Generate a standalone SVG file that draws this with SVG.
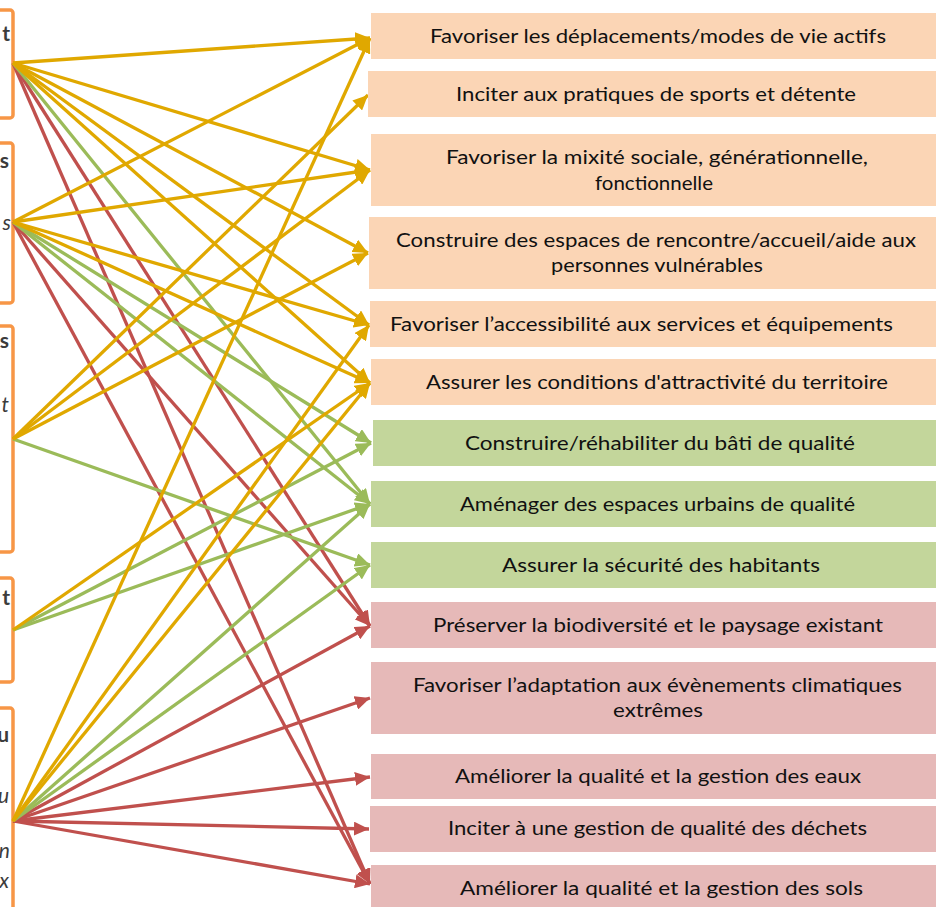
<svg xmlns="http://www.w3.org/2000/svg" width="936" height="907" viewBox="0 0 936 907">
<style>
.src{fill:none;stroke:#F79646;stroke-width:3.5}
.lt{font-family:Lato,"Open Sans","DejaVu Sans",sans-serif;font-size:21px;fill:#3C3C3C}
.b{font-weight:bold}
.i{font-style:italic}
.t{font-family:Lato,"Open Sans","DejaVu Sans",sans-serif;font-size:19.5px;fill:#111111}
.o{fill:#FBD5B5}
.g{fill:#C3D69B}
.r{fill:#E6B9B8}
.cg{stroke:#E0A800;stroke-width:3.3;fill:none;marker-end:url(#mg)}
.cn{stroke:#9BBB59;stroke-width:3.3;fill:none;marker-end:url(#mn)}
.cr{stroke:#C0504D;stroke-width:3.3;fill:none;marker-end:url(#mr)}
</style>
<defs>
<marker id="mg" markerUnits="userSpaceOnUse" markerWidth="16" markerHeight="14" refX="15" refY="7" orient="auto"><path d="M0,0 L15,7 L0,14 z" fill="#E0A800"/></marker>
<marker id="mn" markerUnits="userSpaceOnUse" markerWidth="16" markerHeight="14" refX="15" refY="7" orient="auto"><path d="M0,0 L15,7 L0,14 z" fill="#9BBB59"/></marker>
<marker id="mr" markerUnits="userSpaceOnUse" markerWidth="16" markerHeight="14" refX="15" refY="7" orient="auto"><path d="M0,0 L15,7 L0,14 z" fill="#C0504D"/></marker>
</defs>
<rect width="936" height="907" fill="#FFFFFF"/>

<g id="source-1"><rect class="src" x="-50" y="10" width="63" height="108" rx="3"/><text class="lt b" x="10" y="41" text-anchor="end">t</text></g>
<g id="source-2"><rect class="src" x="-50" y="143" width="63" height="160" rx="3"/><text class="lt b" x="9" y="168" text-anchor="end">s</text><text class="lt i" x="11" y="230" text-anchor="end">s</text></g>
<g id="source-3"><rect class="src" x="-50" y="326" width="63" height="226" rx="3"/><text class="lt b" x="9" y="348" text-anchor="end">s</text><text class="lt i" x="9" y="412" text-anchor="end">t</text></g>
<g id="source-4"><rect class="src" x="-50" y="578" width="63" height="104" rx="3"/><text class="lt b" x="10" y="605" text-anchor="end">t</text></g>
<g id="source-5"><rect class="src" x="-50" y="708" width="63" height="230" rx="3"/><text class="lt b" x="9" y="742" text-anchor="end">u</text><text class="lt i" x="9" y="803" text-anchor="end">u</text><text class="lt i" x="10" y="858" text-anchor="end">n</text><text class="lt i" x="9" y="888" text-anchor="end">x</text></g>

<g id="connectors">
<g id="red">
<line class="cr" x1="13" y1="63" x2="370" y2="626"/>
<line class="cr" x1="13" y1="63" x2="370" y2="884"/>
<line class="cr" x1="13" y1="222" x2="370" y2="626"/>
<line class="cr" x1="13" y1="222" x2="370" y2="884"/>
<line class="cr" x1="13" y1="821" x2="370" y2="626"/>
<line class="cr" x1="13" y1="821" x2="370" y2="698"/>
<line class="cr" x1="13" y1="821" x2="370" y2="777"/>
<line class="cr" x1="13" y1="821" x2="369" y2="829"/>
<line class="cr" x1="13" y1="821" x2="370" y2="884"/>
</g>
<g id="green">
<line class="cn" x1="13" y1="63" x2="370" y2="504"/>
<line class="cn" x1="13" y1="222" x2="371" y2="443"/>
<line class="cn" x1="13" y1="222" x2="370" y2="504"/>
<line class="cn" x1="13" y1="439" x2="370" y2="565"/>
<line class="cn" x1="13" y1="630" x2="371" y2="443"/>
<line class="cn" x1="13" y1="630" x2="370" y2="504"/>
<line class="cn" x1="13" y1="821" x2="370" y2="504"/>
<line class="cn" x1="13" y1="821" x2="370" y2="565"/>
</g>
<g id="gold">
<line class="cg" x1="13" y1="63" x2="370" y2="38"/>
<line class="cg" x1="13" y1="63" x2="370" y2="170"/>
<line class="cg" x1="13" y1="63" x2="368" y2="253"/>
<line class="cg" x1="13" y1="63" x2="369" y2="325"/>
<line class="cg" x1="13" y1="63" x2="370" y2="383"/>
<line class="cg" x1="13" y1="222" x2="370" y2="38"/>
<line class="cg" x1="13" y1="222" x2="370" y2="170"/>
<line class="cg" x1="13" y1="222" x2="369" y2="325"/>
<line class="cg" x1="13" y1="222" x2="370" y2="383"/>
<line class="cg" x1="13" y1="439" x2="368" y2="95"/>
<line class="cg" x1="13" y1="439" x2="370" y2="170"/>
<line class="cg" x1="13" y1="439" x2="368" y2="253"/>
<line class="cg" x1="13" y1="630" x2="370" y2="383"/>
<line class="cg" x1="13" y1="821" x2="370" y2="38"/>
<line class="cg" x1="13" y1="821" x2="369" y2="325"/>
<line class="cg" x1="13" y1="821" x2="370" y2="383"/>
</g>
</g>

<g id="target-1"><rect class="o" x="371" y="13" width="565" height="46"/><text class="t" x="430" y="43" textLength="456" lengthAdjust="spacingAndGlyphs">Favoriser les déplacements/modes de vie actifs</text></g>
<g id="target-2"><rect class="o" x="368" y="71" width="568" height="46"/><text class="t" x="456" y="101" textLength="400" lengthAdjust="spacingAndGlyphs">Inciter aux pratiques de sports et détente</text></g>
<g id="target-3"><rect class="o" x="371" y="134" width="565" height="72"/><text class="t" x="446" y="164" textLength="422" lengthAdjust="spacingAndGlyphs">Favoriser la mixité sociale, générationnelle,</text><text class="t" x="595" y="190" textLength="118" lengthAdjust="spacingAndGlyphs">fonctionnelle</text></g>
<g id="target-4"><rect class="o" x="369" y="217" width="567" height="72"/><text class="t" x="396" y="247" textLength="520" lengthAdjust="spacingAndGlyphs">Construire des espaces de rencontre/accueil/aide aux</text><text class="t" x="551" y="272" textLength="212" lengthAdjust="spacingAndGlyphs">personnes vulnérables</text></g>
<g id="target-5"><rect class="o" x="370" y="301" width="566" height="46"/><text class="t" x="390" y="331" textLength="503" lengthAdjust="spacingAndGlyphs">Favoriser l’accessibilité aux services et équipements</text></g>
<g id="target-6"><rect class="o" x="371" y="359" width="565" height="46"/><text class="t" x="426" y="389" textLength="462" lengthAdjust="spacingAndGlyphs">Assurer les conditions d'attractivité du territoire</text></g>
<g id="target-7"><rect class="g" x="373" y="420" width="563" height="46"/><text class="t" x="465" y="450" textLength="390" lengthAdjust="spacingAndGlyphs">Construire/réhabiliter du bâti de qualité</text></g>
<g id="target-8"><rect class="g" x="371" y="481" width="565" height="46"/><text class="t" x="460" y="511" textLength="395" lengthAdjust="spacingAndGlyphs">Aménager des espaces urbains de qualité</text></g>
<g id="target-9"><rect class="g" x="371" y="542" width="565" height="46"/><text class="t" x="502" y="572" textLength="318" lengthAdjust="spacingAndGlyphs">Assurer la sécurité des habitants</text></g>
<g id="target-10"><rect class="r" x="371" y="602" width="565" height="46"/><text class="t" x="433" y="632" textLength="450" lengthAdjust="spacingAndGlyphs">Préserver la biodiversité et le paysage existant</text></g>
<g id="target-11"><rect class="r" x="371" y="662" width="565" height="72"/><text class="t" x="413" y="692" textLength="489" lengthAdjust="spacingAndGlyphs">Favoriser l’adaptation aux évènements climatiques</text><text class="t" x="613" y="717" textLength="90" lengthAdjust="spacingAndGlyphs">extrêmes</text></g>
<g id="target-12"><rect class="r" x="371" y="754" width="565" height="45"/><text class="t" x="455" y="783" textLength="406" lengthAdjust="spacingAndGlyphs">Améliorer la qualité et la gestion des eaux</text></g>
<g id="target-13"><rect class="r" x="370" y="806" width="566" height="46"/><text class="t" x="448" y="835" textLength="419" lengthAdjust="spacingAndGlyphs">Inciter à une gestion de qualité des déchets</text></g>
<g id="target-14"><rect class="r" x="371" y="865" width="565" height="42"/><text class="t" x="460" y="895" textLength="403" lengthAdjust="spacingAndGlyphs">Améliorer la qualité et la gestion des sols</text></g>
</svg>
